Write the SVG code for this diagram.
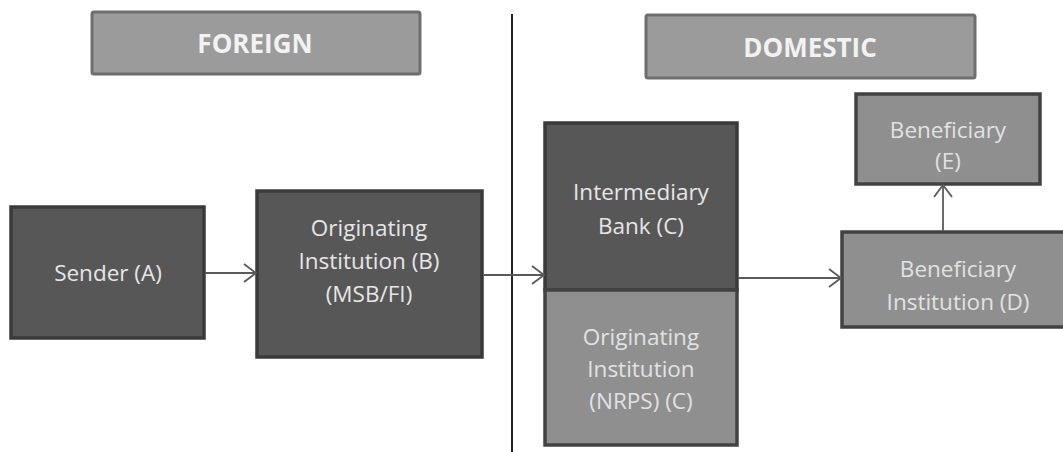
<svg xmlns="http://www.w3.org/2000/svg" width="1063" height="452" viewBox="0 0 1063 452">
<style>
.hdr{fill:#9b9b9b;stroke:#6e6e6e;stroke-width:3}
.dark{fill:#575757;stroke:#3a3a3a;stroke-width:3.5}
.light{fill:#8f8f8f;stroke:#424242;stroke-width:3.5}
.ht{font-family:"Open Sans","Liberation Sans",sans-serif;font-weight:bold;font-size:26px;fill:#f2f2f2;text-anchor:middle}
.t{font-family:"Open Sans","Liberation Sans",sans-serif;font-size:22.5px;fill:#e6e6e6;text-anchor:middle}
.tl{font-family:"Open Sans","Liberation Sans",sans-serif;font-size:22.5px;fill:#e2e2e2;text-anchor:middle}
.con{stroke:#5a5a5a;stroke-width:1.8;fill:none;marker-end:url(#arr)}
</style>
<defs>
<marker id="arr" markerWidth="16" markerHeight="20" refX="14" refY="10" orient="auto" markerUnits="userSpaceOnUse">
<path d="M2,1 L14,10 L2,19" fill="none" stroke="#5a5a5a" stroke-width="1.8"/>
</marker>
</defs>
<rect width="1063" height="452" fill="#ffffff"/>
<line x1="512" y1="14" x2="512" y2="452" stroke="#222" stroke-width="2"/>
<g id="foreign">
<rect class="hdr" x="92" y="12" width="328" height="62" rx="2"/>
<text class="ht" x="255" y="53">FOREIGN</text>
</g>
<g id="domestic">
<rect class="hdr" x="646" y="15" width="329" height="63" rx="2"/>
<text class="ht" x="810" y="57">DOMESTIC</text>
</g>
<g id="sender">
<rect class="dark" x="11" y="207" width="193" height="131"/>
<text class="t" x="108" y="281">Sender (A)</text>
</g>
<g id="origB">
<rect class="dark" x="257" y="191" width="225" height="166"/>
<text class="t" x="369" y="236">Originating</text>
<text class="t" x="369" y="269">Institution (B)</text>
<text class="t" x="369" y="302">(MSB/FI)</text>
</g>
<g id="intermediary">
<rect class="dark" x="545" y="123" width="192" height="167"/>
<text class="t" x="641" y="200">Intermediary</text>
<text class="t" x="641" y="234">Bank (C)</text>
</g>
<g id="origNRPS">
<rect class="light" x="545" y="290" width="192" height="155"/>
<text class="tl" x="641" y="345">Originating</text>
<text class="tl" x="641" y="377">Institution</text>
<text class="tl" x="641" y="409">(NRPS) (C)</text>
</g>
<g id="benE">
<rect class="light" x="856" y="94" width="184" height="90"/>
<text class="tl" x="948" y="138">Beneficiary</text>
<text class="tl" x="948" y="169">(E)</text>
</g>
<g id="benD">
<rect class="light" x="842" y="232" width="233" height="95"/>
<text class="tl" x="958" y="277">Beneficiary</text>
<text class="tl" x="958" y="310">Institution (D)</text>
</g>
<g id="connectors">
<line class="con" x1="205" y1="273" x2="256" y2="273"/>
<line class="con" x1="483" y1="275" x2="544" y2="275"/>
<line class="con" x1="738" y1="278" x2="841" y2="278"/>
<line class="con" x1="943" y1="231" x2="943" y2="185"/>
</g>
</svg>
